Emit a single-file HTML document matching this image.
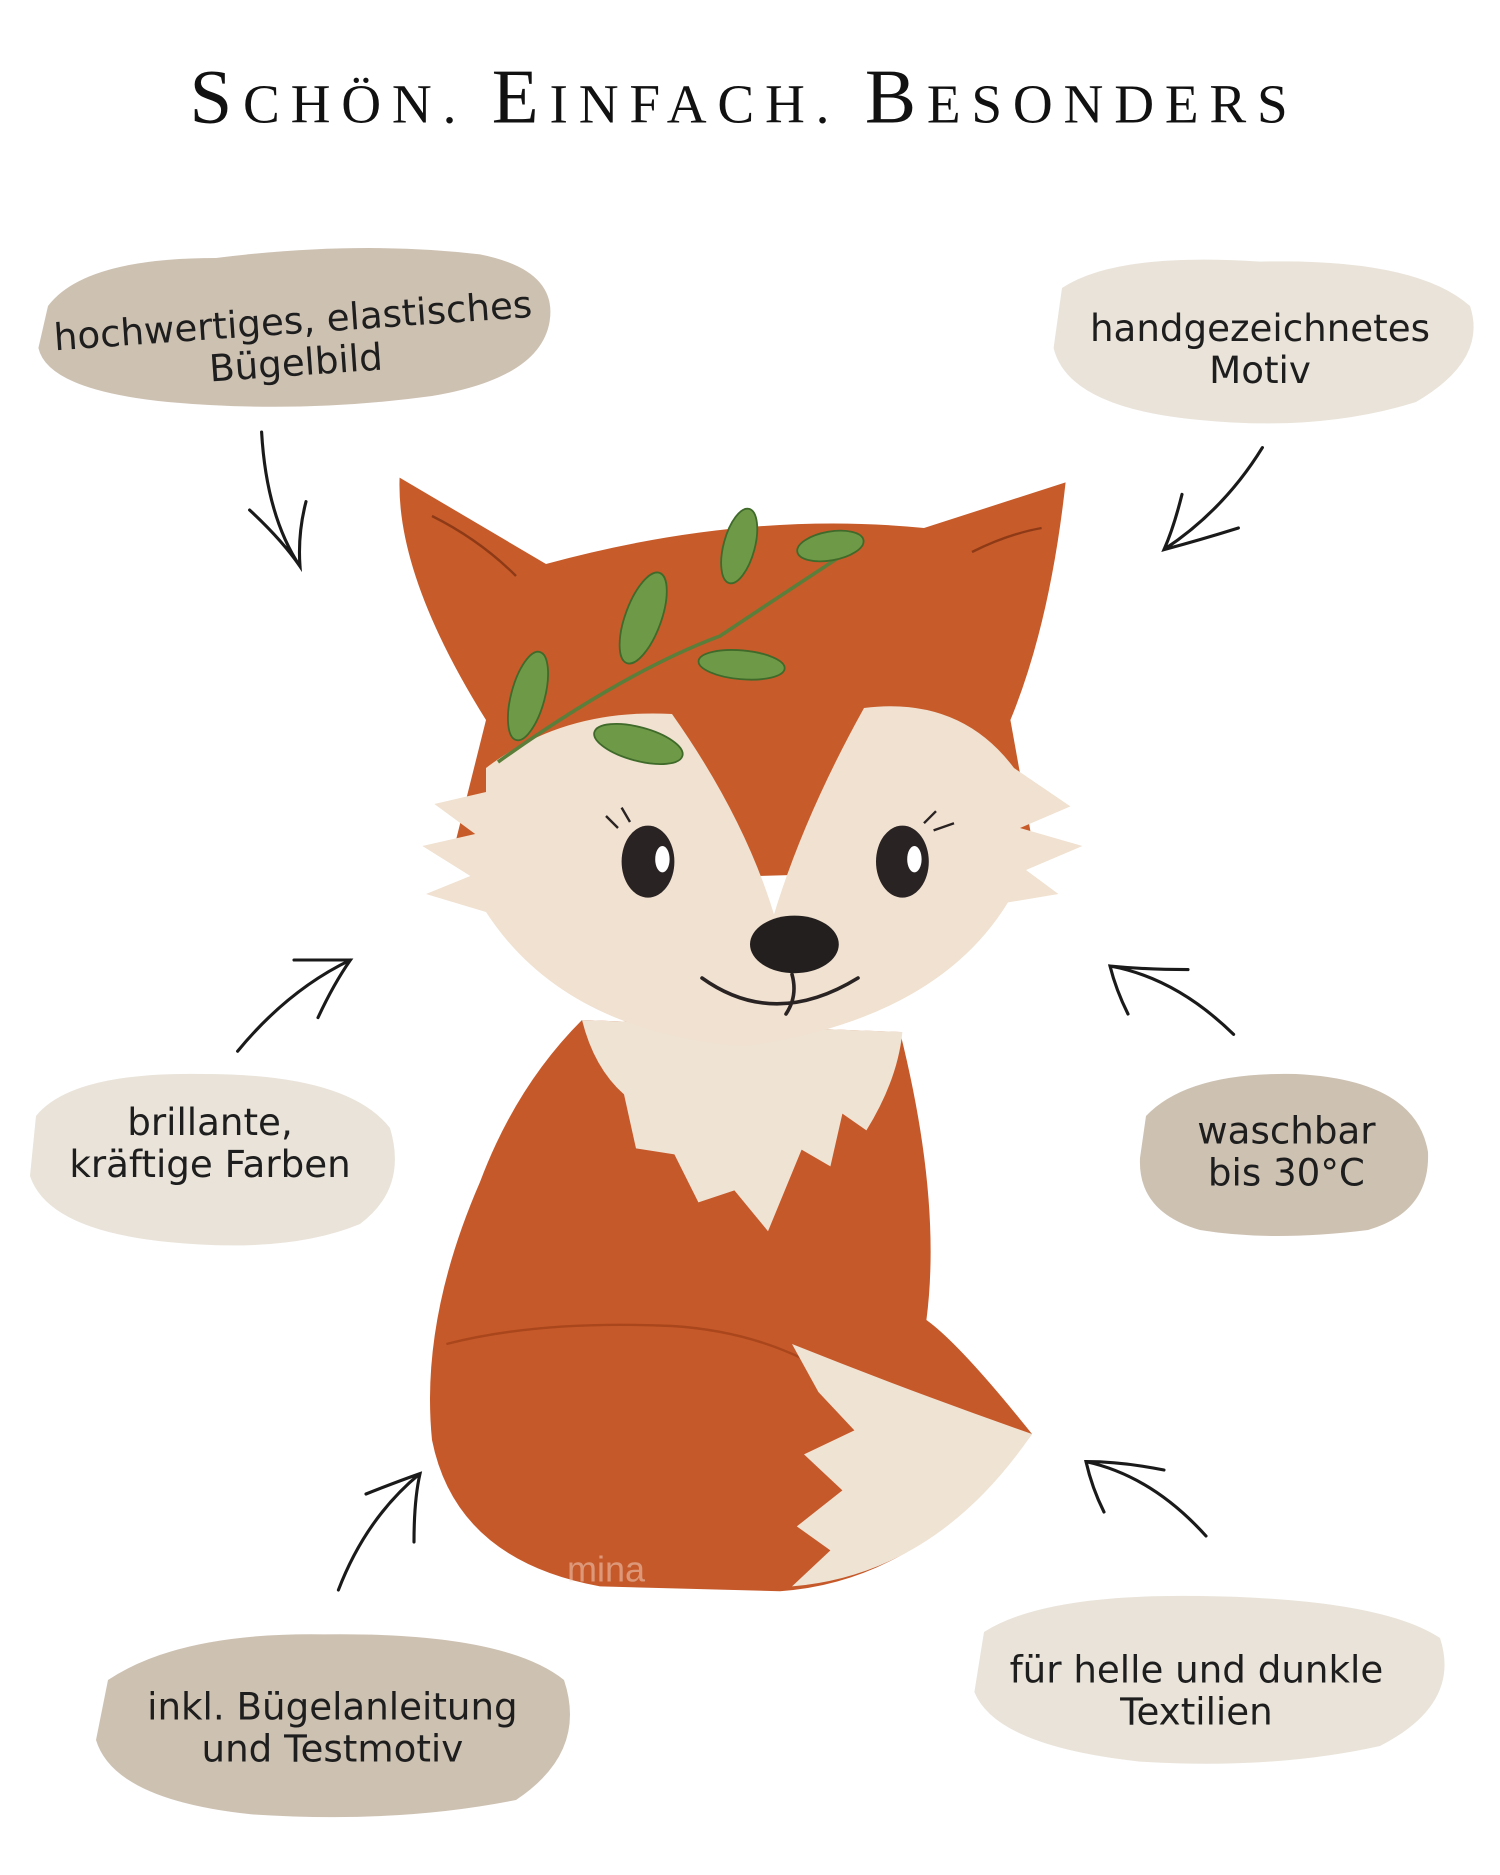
<!DOCTYPE html>
<html><head><meta charset="utf-8"><style>
html,body{margin:0;padding:0;background:#fff;}
svg{display:block;}
.t{font-family:"DejaVu Sans","Liberation Sans",sans-serif;font-size:31px;fill:#1e1e1e;text-anchor:middle;}
</style></head><body>
<svg width="1500" height="1875" viewBox="0 0 1250 1562.5" xmlns="http://www.w3.org/2000/svg">
<rect width="1250" height="1563" fill="#fff"/>
<text x="620" y="102" text-anchor="middle" font-family="Liberation Serif,serif" font-size="62" fill="#111" letter-spacing="9"><tspan font-size="64">S</tspan><tspan font-size="46">CHÖN. </tspan><tspan font-size="64">E</tspan><tspan font-size="46">INFACH. </tspan><tspan font-size="64">B</tspan><tspan font-size="46">ESONDERS</tspan></text>

<!-- blobs -->
<path d="M40,255 Q70,215 180,215 Q300,200 400,212 Q465,225 458,268 Q450,315 360,330 Q250,345 140,335 Q40,325 32,290 Z" fill="#cdc1b2"/>
<path d="M885,240 Q930,210 1050,218 Q1180,215 1225,255 Q1240,300 1180,335 Q1100,360 1000,350 Q890,340 878,290 Z" fill="#e9e3d9"/>
<path d="M30,930 Q60,893 170,895 Q290,895 325,940 Q340,990 300,1020 Q240,1045 140,1035 Q40,1025 25,980 Z" fill="#e9e3d9"/>
<path d="M955,930 Q990,893 1080,895 Q1180,900 1190,960 Q1192,1010 1140,1025 Q1060,1035 1000,1025 Q948,1010 950,965 Z" fill="#cdc1b2"/>
<path d="M90,1400 Q150,1360 270,1362 Q420,1360 470,1400 Q490,1460 430,1500 Q330,1520 210,1512 Q95,1500 80,1450 Z" fill="#cdc1b2"/>
<path d="M820,1360 Q870,1328 1000,1330 Q1150,1332 1200,1365 Q1218,1420 1150,1455 Q1060,1475 950,1468 Q830,1455 812,1410 Z" fill="#e9e3d9"/>

<g transform="rotate(-4 245 280)"><text class="t" x="245" y="278">hochwertiges, elastisches</text><text class="t" x="245" y="313">Bügelbild</text></g>
<text class="t" x="1050" y="284">handgezeichnetes</text><text class="t" x="1050" y="319">Motiv</text>
<text class="t" x="175" y="946">brillante,</text><text class="t" x="175" y="981">kräftige Farben</text>
<text class="t" x="1072" y="953">waschbar</text><text class="t" x="1072" y="988">bis 30°C</text>
<text class="t" x="277" y="1433">inkl. Bügelanleitung</text><text class="t" x="277" y="1468">und Testmotiv</text>
<text class="t" x="997" y="1402">für helle und dunkle</text><text class="t" x="997" y="1437">Textilien</text>

<!-- arrows -->
<g fill="none" stroke="#1a1a1a" stroke-width="2.6" stroke-linecap="round">
<path d="M218,360 Q222,430 250,472 M208,425 Q235,450 250,472 Q248,445 255,418"/>
<path d="M1052,373 Q1020,425 970,458 M985,412 Q978,440 970,458 Q1000,450 1032,440"/>
<path d="M198,876 Q240,825 292,800 M245,800 Q270,800 292,800 Q278,820 265,848"/>
<path d="M1028,862 Q980,815 925,805 M940,845 Q930,825 925,805 Q955,808 990,808"/>
<path d="M282,1325 Q305,1265 350,1228 M305,1245 Q330,1235 350,1228 Q345,1250 345,1285"/>
<path d="M1005,1280 Q960,1230 905,1218 M920,1260 Q910,1240 905,1218 Q935,1218 970,1225"/>
</g>

<!-- fox body -->
<path d="M485,850 Q430,905 400,985 Q350,1100 360,1200 Q380,1300 500,1322 L650,1326 Q770,1318 860,1195 Q800,1120 772,1100 Q785,1000 750,860 Z" fill="#c6592a"/>
<path d="M372,1120 Q450,1100 560,1105 Q640,1110 700,1150" fill="none" stroke="#a9461c" stroke-width="2"/>
<path d="M485,850 L752,860 Q748,900 722,942 L702,928 L692,972 L668,958 L640,1026 L612,992 L582,1002 L562,962 L530,957 L520,912 Q495,890 485,850 Z" fill="#efe3d4"/>
<path d="M660,1120 Q760,1160 860,1195 Q780,1312 660,1322 L692,1292 L664,1272 L702,1242 L670,1212 L712,1192 L682,1160 Z" fill="#efe3d4"/>
<!-- head -->
<path d="M333,398 L455,470 Q620,425 770,440 L888,402 Q875,520 842,600 L860,700 Q620,760 380,700 L405,600 Q330,480 333,398 Z" fill="#c75b2a"/>
<path d="M360,430 Q400,450 430,480 M810,460 Q840,445 868,440" fill="none" stroke="#8e3a17" stroke-width="2"/>
<path d="M405,640 Q470,590 560,595 Q620,680 645,762 Q670,680 720,590 Q800,580 845,640 L892,672 L850,690 L902,705 L855,725 L882,745 L840,752 Q780,850 620,872 Q470,860 405,760 L355,745 L392,730 L352,705 L396,695 L362,670 L405,660 Z" fill="#f0e1d0"/>
<ellipse cx="540" cy="718" rx="22" ry="30" fill="#2a2323"/>
<ellipse cx="552" cy="716" rx="6" ry="11" fill="#fff"/>
<ellipse cx="752" cy="718" rx="22" ry="30" fill="#2a2323"/>
<ellipse cx="762" cy="716" rx="6" ry="11" fill="#fff"/>
<path d="M515,690 L505,680 M525,685 L518,673 M770,686 L780,676 M778,692 L795,686" stroke="#2a2323" stroke-width="2"/>
<ellipse cx="662" cy="787" rx="37" ry="24" fill="#241f1f"/>
<path d="M585,815 Q645,858 715,815 M660,812 Q665,830 655,845" fill="none" stroke="#2a2323" stroke-width="3" stroke-linecap="round"/>
<!-- leaves -->
<path d="M415,635 Q520,560 600,530 Q660,490 712,456" fill="none" stroke="#5b7e3a" stroke-width="3"/>
<g fill="#6e9a48" stroke="#3f6a2a" stroke-width="1.5">
<ellipse cx="440" cy="580" rx="14" ry="38" transform="rotate(15 440 580)"/>
<ellipse cx="532" cy="620" rx="38" ry="14" transform="rotate(15 532 620)"/>
<ellipse cx="536" cy="515" rx="15" ry="40" transform="rotate(20 536 515)"/>
<ellipse cx="618" cy="554" rx="36" ry="12" transform="rotate(5 618 554)"/>
<ellipse cx="616" cy="455" rx="13" ry="32" transform="rotate(15 616 455)"/>
<ellipse cx="692" cy="455" rx="28" ry="12" transform="rotate(-10 692 455)"/>
</g>
<text x="505" y="1318" text-anchor="middle" font-family="Liberation Sans,sans-serif" font-size="30" fill="#f3d8c8" opacity="0.5">mina</text>
</svg>
</body></html>
